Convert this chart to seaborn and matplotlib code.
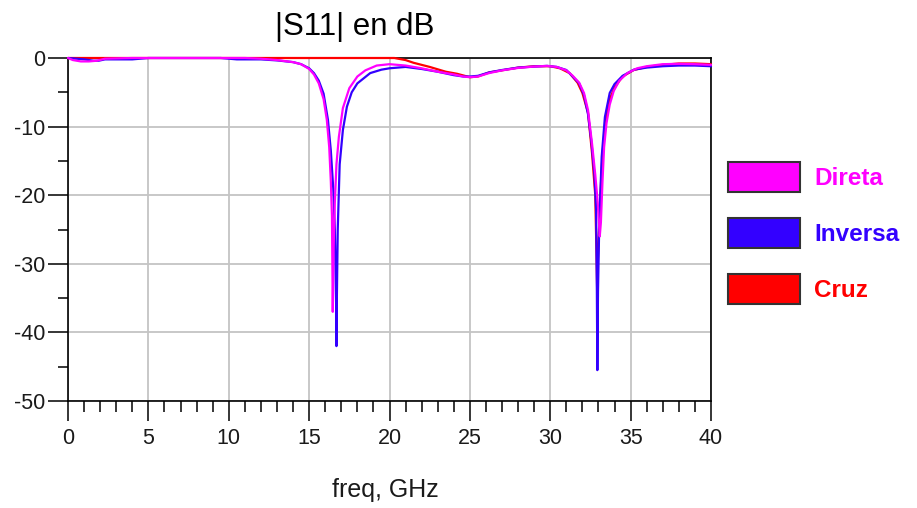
import matplotlib
matplotlib.use("Agg")
import matplotlib.pyplot as plt
from matplotlib.patches import Patch
from matplotlib.ticker import MultipleLocator
import seaborn as sns
import pandas as pd

# |S11| (dB) versus frequency (GHz) for three feed configurations
freq_direta = [0, 0.3, 0.8, 1.3, 1.8, 2.3, 4, 8, 11, 12, 13, 14.0, 14.5, 15.0, 15.3,
               15.6, 15.9, 16.1, 16.25, 16.35, 16.42, 16.47, 16.52, 16.6, 16.7, 16.85,
               17.1, 17.5, 18.0, 18.5, 19.2, 20.0, 21.0, 22.0, 23.0, 24.0, 24.6, 25.0,
               25.5, 26.2, 27.0, 28.0, 29.0, 29.8, 30.4, 31.0, 31.4, 31.8, 32.1, 32.35,
               32.6, 32.8, 32.95, 33.08, 33.15, 33.25, 33.35, 33.5, 33.7, 33.95, 34.3,
               34.8, 35.4, 36.0, 37.0, 38.0, 39.0, 40.0]
s11_direta = [0, -0.3, -0.5, -0.5, -0.4, -0.1, 0, 0, 0, -0.1, -0.3, -0.6, -0.9, -1.6, -2.4,
              -3.7, -6.0, -9.0, -13.0, -18.0, -23.0, -37.0, -28.0, -21.0, -15.5, -11.5,
              -7.3, -4.4, -2.7, -1.8, -1.1, -0.9, -1.1, -1.5, -2.0, -2.4, -2.7, -2.8,
              -2.7, -2.2, -1.8, -1.45, -1.25, -1.15, -1.3, -1.8, -2.6, -3.6, -5.1, -7.6,
              -12.5, -17.0, -21.0, -26.0, -24.0, -18.0, -13.0, -9.5, -6.8, -4.8, -3.3,
              -2.2, -1.5, -1.2, -0.9, -0.85, -0.9, -1.0]

freq_inversa = [0, 0.5, 1.0, 1.6, 1.9, 2.3, 3.0, 4.0, 5.0, 9.5, 10.5, 12.0, 13.0, 14.0,
                14.5, 15.0, 15.3, 15.6, 15.9, 16.17, 16.35, 16.5, 16.6, 16.68, 16.7,
                16.72, 16.78, 16.9, 17.1, 17.35, 17.65, 18.0, 18.8, 19.5, 20.0, 21.0,
                22.0, 23.0, 24.0, 24.6, 25.0, 25.5, 26.2, 27.0, 28.0, 29.0, 29.8, 30.4,
                31.0, 31.4, 31.8, 32.1, 32.35, 32.55, 32.75, 32.85, 32.9, 32.93, 32.97,
                33.05, 33.2, 33.4, 33.7, 34.0, 34.5, 35.2, 36.0, 37.0, 38.0, 39.0, 40.0]
s11_inversa = [0, -0.1, -0.2, -0.4, -0.4, -0.2, -0.2, -0.2, 0, 0, -0.2, -0.2, -0.35, -0.6,
               -0.9, -1.5, -2.2, -3.3, -5.2, -9.0, -13.5, -19.0, -25.0, -36.0, -42.0,
               -36.0, -25.0, -15.5, -10.5, -7.1, -5.0, -3.7, -2.2, -1.7, -1.5, -1.3,
               -1.6, -2.0, -2.5, -2.7, -2.7, -2.6, -2.1, -1.75, -1.4, -1.25, -1.15, -1.3,
               -1.75, -2.7, -3.7, -5.4, -8.2, -12.0, -17.0, -22.0, -34.0, -45.5, -34.0,
               -24.0, -14.4, -8.6, -5.1, -3.8, -2.6, -1.7, -1.4, -1.2, -1.1, -1.1, -1.2]

freq_cruz = [0, 5, 10, 15, 20.3, 21.0, 21.5, 22.5, 23.5, 24.2, 25.0, 25.5, 26.2, 27.0,
             28.0, 29.0, 30.0, 30.6, 31.2, 31.7, 32.0, 32.35, 32.6, 32.8, 32.88, 32.92,
             32.97, 33.1, 33.25, 33.45, 33.7, 34.0, 34.5, 35.2, 36.0, 37.0, 38.0, 39.0,
             40.0]
s11_cruz = [0, 0, 0, 0, 0, -0.3, -0.7, -1.3, -2.0, -2.3, -2.8, -2.7, -2.1, -1.8, -1.4,
            -1.2, -1.2, -1.5, -2.2, -3.6, -5.1, -8.0, -13.9, -20.0, -29.0, -34.0, -29.0,
            -21.0, -14.0, -9.0, -6.0, -4.3, -2.7, -1.75, -1.3, -1.0, -0.8, -0.8, -0.9]

series_names = ["Direta", "Inversa", "Cruz"]
series_colors = ["#ff00ff", "#3300ff", "#ff0000"]

x_ticks = [0, 5, 10, 15, 20, 25, 30, 35, 40]
y_ticks = [0, -10, -20, -30, -40, -50]

sns.set_style("white")
plt.rcParams["font.family"] = ["Liberation Sans", "DejaVu Sans"]
plt.rcParams["axes.unicode_minus"] = False

fig = plt.figure(figsize=(9.17, 5.08), dpi=100)
ax = fig.add_axes([68 / 917, 1 - 401 / 508, (711 - 68) / 917, (401 - 58) / 508])

# red underneath, then blue, magenta on top
curves = {
    "Cruz": (freq_cruz, s11_cruz, series_colors[2]),
    "Inversa": (freq_inversa, s11_inversa, series_colors[1]),
    "Direta": (freq_direta, s11_direta, series_colors[0]),
}
for name, (f, s, c) in curves.items():
    df = pd.DataFrame({"freq": f, "s11": s})
    sns.lineplot(data=df, x="freq", y="s11", ax=ax, color=c, lw=1.6,
                 estimator=None, sort=False, clip_on=False, zorder=3)

ax.set_xlim(0, 40)
ax.set_ylim(-50, 0)
ax.set_xticks(x_ticks)
ax.set_yticks(y_ticks)
ax.set_xticklabels([str(v) for v in x_ticks])
ax.set_yticklabels([str(v) for v in y_ticks])
ax.xaxis.set_minor_locator(MultipleLocator(1))
ax.yaxis.set_minor_locator(MultipleLocator(5))
ax.set_xlabel("")
ax.set_ylabel("")

ax.grid(True, which="major", color="#c4c4c4", lw=1.3, zorder=0)
for sp in ax.spines.values():
    sp.set_color("black")
    sp.set_linewidth(1.2)
    sp.set_visible(True)

ax.tick_params(axis="both", which="both", bottom=True, left=True, top=False, right=False)
ax.tick_params(axis="both", which="major", direction="out", length=14.4, width=1.1,
               color="black", labelsize=15.5, labelcolor="#1a1a1a")
ax.tick_params(axis="x", which="major", pad=5)
ax.tick_params(axis="y", which="major", pad=2)
ax.tick_params(axis="x", which="minor", direction="out", length=8, width=1.1,
               color="black")
ax.tick_params(axis="y", which="minor", direction="out", length=7.2, width=1.1,
               color="black")

fig.text(355 / 917, 1 - 27 / 508, "|S11| en dB", ha="center", va="center",
         fontsize=22.5, color="black")
fig.text(385 / 917, 1 - 490 / 508, "freq, GHz", ha="center", va="center",
         fontsize=18, color="#1a1a1a")

handles = [Patch(facecolor=c, edgecolor="#333333", lw=1.5, label=n)
           for n, c in zip(series_names, series_colors)]
fig.legend(handles=handles, loc="center left", bbox_to_anchor=(728 / 917, 1 - 233 / 508),
           frameon=False, prop={"weight": "bold", "size": 17.5},
           labelcolor=series_colors, handlelength=2.95, handleheight=1.55,
           handletextpad=0.6, labelspacing=1.05, borderpad=0, borderaxespad=0)

fig.savefig("out.png", dpi=100)
